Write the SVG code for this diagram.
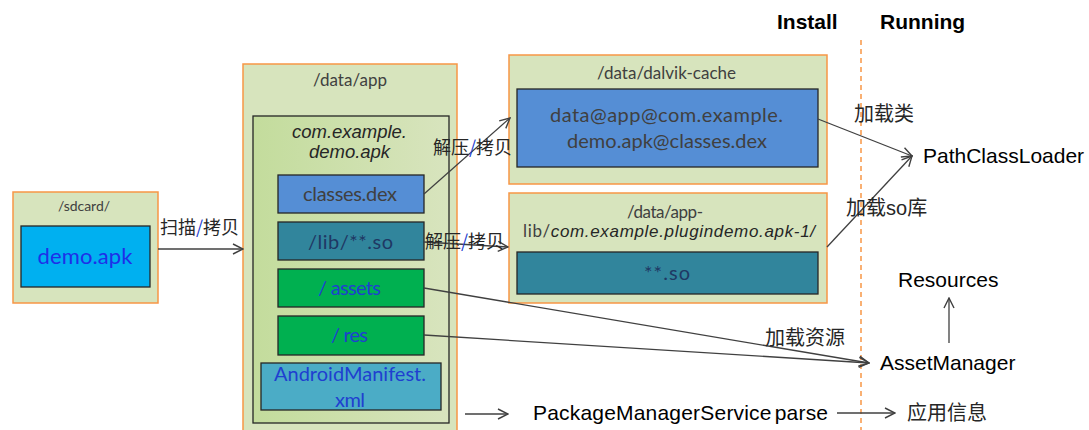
<svg xmlns="http://www.w3.org/2000/svg" width="1089" height="430" viewBox="0 0 1089 430">
  <defs>
    <marker id="arrow" viewBox="0 0 12 12" refX="11" refY="6" markerWidth="12" markerHeight="12" markerUnits="userSpaceOnUse" orient="auto">
      <path d="M1,1 L11,6 L1,11" fill="none" stroke="#404040" stroke-width="1.4"/>
    </marker>
    <linearGradient id="apkFill" x1="0" y1="0" x2="1" y2="0">
      <stop offset="0" stop-color="#c3dc9c"/>
      <stop offset="1" stop-color="#d8e4be"/>
    </linearGradient>
  </defs>
  <style>
    .outer { fill: #d7e4bd; stroke: #f79646; stroke-width: 1.5; }
    .item { stroke: #262626; stroke-width: 1.3; }
    .title { font-family: Lato, "Noto Sans", sans-serif; fill: #404040; text-anchor: middle; }
    .box { font-family: Lato, "Noto Sans", sans-serif; text-anchor: middle; }
    .ital { font-family: "Liberation Sans", Arial, sans-serif; font-style: italic; fill: #262626; }
    .lbl { font-family: "Liberation Sans", Arial, sans-serif; fill: #000; }
    .cjk { font-family: "Noto Sans CJK SC", sans-serif; fill: #262626; }
    .head { font-family: "Liberation Sans", Arial, sans-serif; font-weight: bold; font-size: 21px; fill: #000; }
    .conn { fill: none; stroke: #404040; stroke-width: 1.3; marker-end: url(#arrow); }
  </style>
  <rect width="1089" height="430" fill="#ffffff"/>

  <!-- phase headings and divider -->
  <text class="head" x="777" y="29">Install</text>
  <text class="head" x="880" y="29">Running</text>
  <line x1="861" y1="40" x2="861" y2="430" stroke="#f79646" stroke-width="1.5" stroke-dasharray="5,4"/>

  <g id="sdcard">
    <rect class="outer" x="13" y="192" width="145" height="111"/>
    <text class="title" x="84" y="211" font-size="14" textLength="52">/sdcard/</text>
    <rect class="item" x="21" y="226" width="129" height="61" fill="#00b0f0"/>
    <text class="box" x="85" y="264" font-size="22" fill="#1f2fe8" textLength="95">demo.apk</text>
  </g>

  <g id="data-app">
    <rect class="outer" x="243" y="64" width="214" height="370"/>
    <text class="title" x="350" y="86" font-size="17" textLength="74">/data/app</text>
    <rect class="item" x="253" y="116" width="196" height="307" fill="url(#apkFill)"/>
    <text class="ital" x="349.5" y="138" font-size="18.5" text-anchor="middle" textLength="115">com.example.</text>
    <text class="ital" x="349.5" y="158" font-size="18.5" text-anchor="middle" textLength="81">demo.apk</text>
    <g id="classes-dex">
      <rect class="item" x="278" y="175" width="146" height="38" fill="#558ed5"/>
      <text class="box" x="350" y="201" font-size="20" fill="#404040" textLength="94">classes.dex</text>
    </g>
    <g id="lib-so">
      <rect class="item" x="278" y="222" width="146" height="38" fill="#31859c"/>
      <text class="box" x="350.5" y="249" font-size="20" fill="#1f3864" textLength="85">/lib/**.so</text>
    </g>
    <g id="assets">
      <rect class="item" x="278" y="269" width="146" height="38" fill="#00b050"/>
      <text class="box" x="349.5" y="295" font-size="20" fill="#1f3fd0" textLength="63">/ assets</text>
    </g>
    <g id="res">
      <rect class="item" x="278" y="316" width="146" height="39" fill="#00b050"/>
      <text class="box" x="349.5" y="342" font-size="20" fill="#1f3fd0" textLength="37">/ res</text>
    </g>
    <g id="manifest">
      <rect class="item" x="261" y="363" width="180" height="47" fill="#4bacc6"/>
      <text class="box" x="350" y="381" font-size="20" fill="#1f3fd0" textLength="152">AndroidManifest.</text>
      <text class="box" x="350" y="407" font-size="20" fill="#1f3fd0" textLength="30">xml</text>
    </g>
  </g>

  <g id="dalvik-cache">
    <rect class="outer" x="509" y="55" width="318" height="129"/>
    <text class="title" x="666.5" y="79" font-size="17" textLength="139">/data/dalvik-cache</text>
    <rect class="item" x="517" y="89" width="301" height="78" fill="#558ed5"/>
    <text class="box" x="666.5" y="122" font-size="20" fill="#404040" textLength="233">data@app@com.example.</text>
    <text class="box" x="667" y="148" font-size="20" fill="#404040" textLength="200">demo.apk@classes.dex</text>
  </g>

  <g id="app-lib">
    <rect class="outer" x="509" y="193" width="318" height="110"/>
    <text class="title" x="665" y="218" font-size="17" textLength="76">/data/app-</text>
    <text class="title" x="669" y="237" font-size="17" textLength="292">lib/<tspan class="ital">com.example.plugindemo.apk-1/</tspan></text>
    <rect class="item" x="517" y="252" width="301" height="42" fill="#31859c"/>
    <text class="box" x="667" y="280" font-size="20" fill="#1f3864" textLength="46">**.so</text>
  </g>

  <g id="path-class-loader">
    <text class="lbl" x="923" y="163" font-size="21">PathClassLoader</text>
  </g>
  <g id="resources">
    <text class="lbl" x="898" y="287" font-size="21">Resources</text>
  </g>
  <g id="asset-manager">
    <text class="lbl" x="880" y="370" font-size="21">AssetManager</text>
  </g>
  <g id="package-manager">
    <text class="lbl" x="533" y="420" font-size="21" word-spacing="-3" textLength="295">PackageManagerService parse</text>
  </g>
  <g id="app-info">
    <text class="cjk" x="907" y="420" font-size="20">应用信息</text>
  </g>

  <g id="connectors">
    <line class="conn" x1="158" y1="249" x2="243" y2="249"/>
    <line class="conn" x1="424" y1="194" x2="510" y2="118"/>
    <line class="conn" x1="424" y1="242" x2="508" y2="247"/>
    <line class="conn" x1="818" y1="119" x2="912" y2="156"/>
    <line class="conn" x1="827" y1="247" x2="912" y2="156"/>
    <line class="conn" x1="424" y1="288" x2="869" y2="363"/>
    <line class="conn" x1="424" y1="335" x2="869" y2="363"/>
    <line class="conn" x1="949" y1="343" x2="949" y2="298"/>
    <line class="conn" x1="465" y1="414" x2="508" y2="414"/>
    <line class="conn" x1="837" y1="413" x2="895" y2="413"/>

    <text class="cjk" x="160" y="234" font-size="18">扫描<tspan fill="#1f3fd0">/</tspan>拷贝</text>
    <text class="cjk" x="433" y="154" font-size="18">解压<tspan fill="#1f3fd0">/</tspan>拷贝</text>
    <text class="cjk" x="425" y="248" font-size="18">解压<tspan fill="#1f3fd0">/</tspan>拷贝</text>
    <text class="cjk" x="854" y="121" font-size="20">加载类</text>
    <text class="cjk" x="846" y="215" font-size="20">加载<tspan font-family="Liberation Sans, Arial, sans-serif">so</tspan>库</text>
    <text class="cjk" x="765" y="345" font-size="20">加载资源</text>
  </g>
</svg>
